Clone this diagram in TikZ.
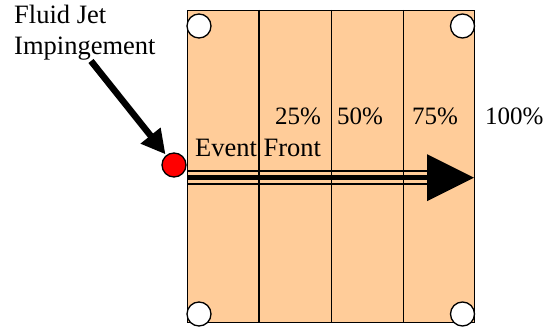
\documentclass[tikz,border=0pt]{standalone}
\usepackage{fontspec}
\setmainfont{Liberation Serif}
\usetikzlibrary{arrows.meta,calc}
\definecolor{peach}{RGB}{255,204,153}
\begin{document}
\begin{tikzpicture}[x=1pt,y=-1pt,
  lbl/.style={anchor=base west, inner sep=0pt, font=\fontsize{26.5}{30}\selectfont},
  pct/.style={anchor=base west, inner sep=0pt, font=\fontsize{25}{30}\selectfont},
  hole/.style={circle, draw=black, fill=white, line width=1.3pt, minimum size=24pt, inner sep=0pt},
  dot/.style={circle, draw=black, fill=red, line width=1.3pt, minimum size=24pt, inner sep=0pt},
  plate/.style={draw=black, fill=peach, line width=1.3pt, minimum width=287pt, minimum height=312pt, inner sep=0pt, anchor=north west},
  divider/.style={draw=black, line width=1.3pt},
  thinrail/.style={draw=black, line width=1.6pt},
  thickrail/.style={draw=black, line width=4.5pt},
  jet/.style={draw=black, line width=6.5pt, -{Triangle[length=24pt,width=24pt]}}]
\useasboundingbox (0,0) rectangle (547,328);
\node[plate] (plate) at (187,10) {};
\foreach \f in {0.25,0.5,0.75}
  \draw[divider] ($(plate.north west)!\f!(plate.north east)$) -- ($(plate.south west)!\f!(plate.south east)$);
% event front arrow
\coordinate (railA) at (187,171);
\coordinate (railB) at (187,177.7);
\coordinate (railC) at (187,184.3);
\coordinate (headbase) at (427,177.7);
\coordinate (headtip) at (474,177.7);
\draw[thinrail] (railA) -- (railA -| headbase);
\draw[thickrail] (railB) -- (headbase);
\draw[thinrail] (railC) -- (railC -| headbase);
\fill[black] ($(headbase)+(0,-23.5)$) -- (headtip) -- ($(headbase)+(0,23.5)$) -- cycle;
% holes
\node[hole] (h1) at (199,26) {};
\node[hole] (h2) at (462.5,26) {};
\node[hole] (h3) at (199,314) {};
\node[hole] (h4) at (462.5,314) {};
% impingement point
\node[dot] (imp) at (174,165) {};
\coordinate (jettail) at (91,61);
\draw[jet, shorten >=1pt] (jettail) -- (imp);
% labels
\node[lbl] (l1) at (14,24) {Fluid Jet};
\node[lbl] (l2) at (14,54.5) {Impingement};
\node[lbl] (ef) at (195,156.5) {Event Front};
\node[pct] (p25) at (275,125) {25\%};
\node[pct] (p50) at (337,125) {50\%};
\node[pct] (p75) at (412,125) {75\%};
\node[pct] (p100) at (485,125) {100\%};
\end{tikzpicture}
\end{document}
